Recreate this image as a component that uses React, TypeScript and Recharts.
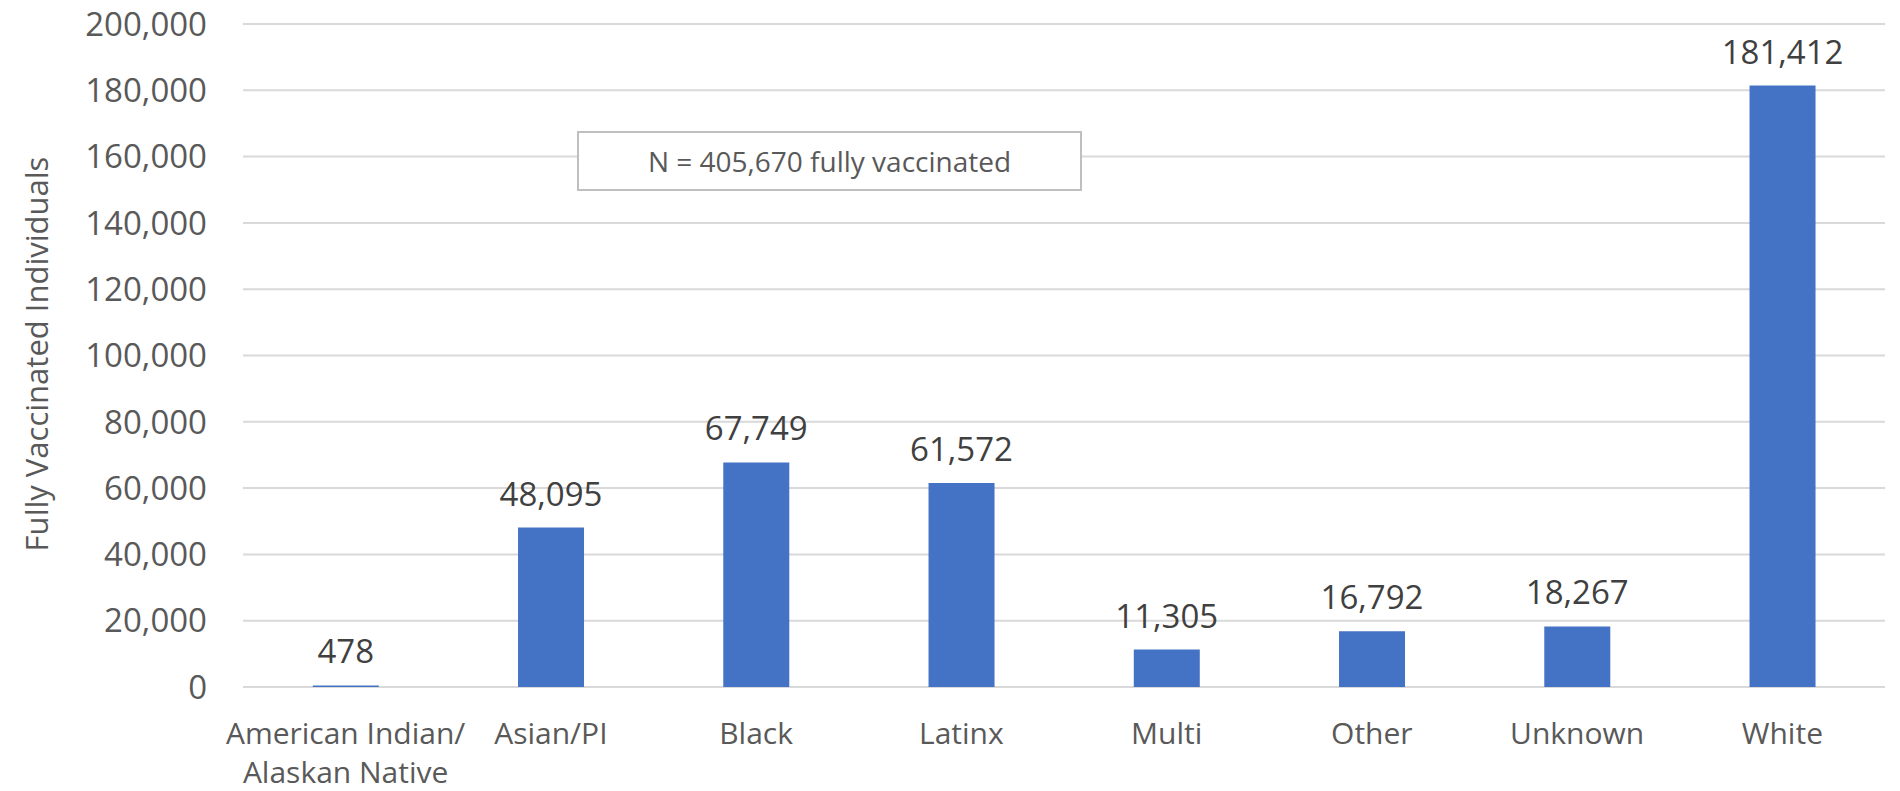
import { BarChart, Bar, XAxis, YAxis, CartesianGrid, LabelList } from "recharts";

const categories = [
  "American Indian/\nAlaskan Native",
  "Asian/PI",
  "Black",
  "Latinx",
  "Multi",
  "Other",
  "Unknown",
  "White",
];
const vaccinated = [478, 48095, 67749, 61572, 11305, 16792, 18267, 181412];
const yTicks = [0, 20000, 40000, 60000, 80000, 100000, 120000, 140000, 160000, 180000, 200000];
const noteText = "N = 405,670 fully vaccinated";
const axisTitle = "Fully Vaccinated Individuals";

const FONT = "'Open Sans', sans-serif";
const data = categories.map((c, i) => ({ name: c, value: vaccinated[i] }));
const fmt = (v: number) => v.toLocaleString("en-US");

function CategoryTick({ x, y, payload }: any) {
  const lines = String(payload.value).split("\n");
  return (
    <text x={x} y={y} textAnchor="middle" fill="#595959" fontSize={30} fontFamily={FONT}>
      {lines.map((l, i) => (
        <tspan key={i} x={x} y={y + 57 + i * 39}>
          {l}
        </tspan>
      ))}
    </text>
  );
}

export default function App() {
  return (
    <div style={{ position: "absolute", left: 0, top: 0, width: 1900, height: 791, background: "#fff" }}>
      <BarChart
        width={1900}
        height={791}
        data={data}
        margin={{ top: 24, right: 15, bottom: 0, left: 0 }}
        barCategoryGap="34%"
      >
        <CartesianGrid vertical={false} stroke="#D9D9D9" strokeWidth={2} />
        <XAxis
          dataKey="name"
          axisLine={false}
          tickLine={false}
          tickSize={0}
          tickMargin={0}
          height={104}
          interval={0}
          tick={<CategoryTick />}
        />
        <YAxis
          width={243}
          domain={[0, 200000]}
          ticks={yTicks}
          tickFormatter={fmt}
          axisLine={false}
          tickLine={false}
          tickSize={0}
          tickMargin={36}
          tick={{ fill: "#595959", fontSize: 33, fontFamily: FONT }}
          label={{
            content: () => (
              <text
                transform="translate(36,354) rotate(-90)"
                textAnchor="middle"
                dominantBaseline="central"
                fill="#595959"
                fontSize={31}
                fontFamily={FONT}
              >
                {axisTitle}
              </text>
            ),
          }}
        />
        <Bar dataKey="value" fill="#4472C4" isAnimationActive={false}>
          <LabelList
            dataKey="value"
            position="top"
            offset={22}
            formatter={(v: any) => fmt(Number(v))}
            style={{ fill: "#404040", fontSize: 33, fontFamily: FONT }}
          />
        </Bar>
      </BarChart>
      <div
        style={{
          position: "absolute",
          left: 577,
          top: 131,
          width: 501,
          height: 56,
          border: "2px solid #BFBFBF",
          background: "#fff",
          display: "flex",
          alignItems: "center",
          justifyContent: "center",
          fontFamily: FONT,
          fontSize: 28,
          color: "#595959",
        }}
      >
        {noteText}
      </div>
    </div>
  );
}
